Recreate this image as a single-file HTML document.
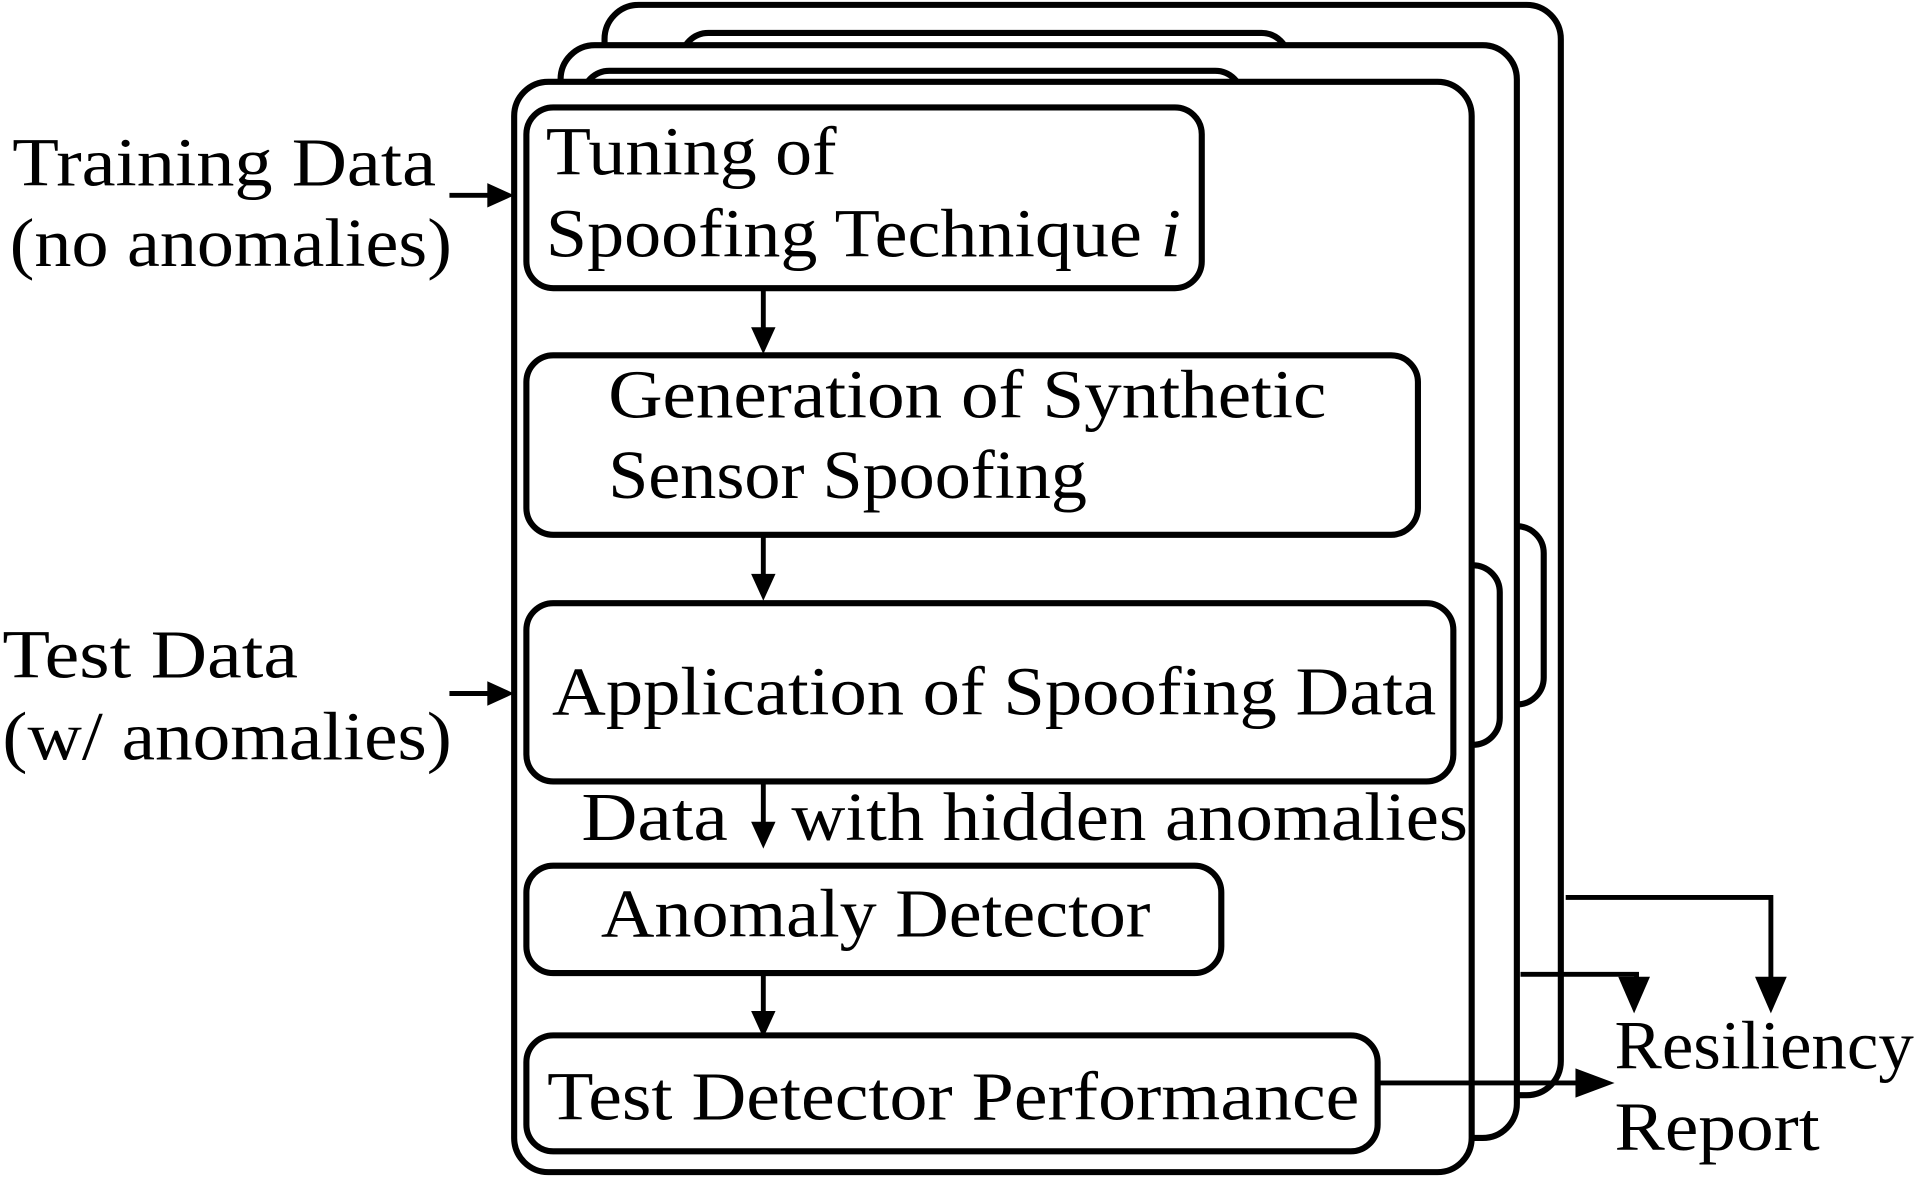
<!DOCTYPE html>
<html><head><meta charset="utf-8"><style>
html,body{margin:0;padding:0;background:#fff;}
svg{display:block;}
text{font-family:"Liberation Serif",serif;font-size:56px;fill:#000;}
</style></head><body>
<svg width="1915" height="1177" viewBox="0 0 1568 964" preserveAspectRatio="none" xmlns="http://www.w3.org/2000/svg">
<defs>
<marker id="a" markerWidth="10" markerHeight="10" refX="9" refY="5" orient="auto" markerUnits="userSpaceOnUse" viewBox="0 0 10 10">
</marker>
</defs>
<g fill="#fff" stroke="#000" stroke-width="5">
<!-- back frame 3 -->
<rect x="495" y="4" width="783" height="893" rx="28"/>
<rect x="558" y="27" width="497" height="200" rx="22"/>
<rect x="1150" y="431" width="114" height="146" rx="22"/>
<!-- frame 2 -->
<rect x="459" y="37" width="783" height="895" rx="28"/>
<rect x="477" y="58" width="540" height="200" rx="22"/>
<rect x="1110" y="463" width="118" height="147" rx="22"/>
<!-- front frame -->
<rect x="421" y="67" width="784" height="893" rx="28"/>
<rect x="431" y="88" width="553" height="148" rx="22"/>
<rect x="431" y="291" width="730" height="147" rx="22"/>
<rect x="431" y="494" width="759" height="146" rx="22"/>
<rect x="431" y="709" width="569" height="88" rx="22"/>
<rect x="431" y="848" width="697" height="95" rx="22"/>
</g>
<g stroke="#000" stroke-width="4" fill="none">
<path d="M368 160H410"/><path d="M368 568H410"/>
<path d="M625 236V278"/><path d="M625 438V480"/><path d="M625 640V682"/><path d="M625 797V838"/>
<path d="M1282 735H1450V818"/><path d="M1245 798H1340V818"/><path d="M1128 887H1310"/>
</g>
<g fill="#000">
<path d="M421 160l-22-10v20z"/><path d="M421 568l-22-10v20z"/>
<path d="M625 290l-10-22h20z"/><path d="M625 492l-10-22h20z"/><path d="M625 695l-10-22h20z"/><path d="M625 850l-10-22h20z"/>
<path d="M1450 830l-13-30h26z"/><path d="M1338 830l-13-30h26z"/><path d="M1322 887l-32-12v24z"/>
</g>
<text x="10" y="152" textLength="347" lengthAdjust="spacingAndGlyphs">Training Data</text>
<text x="8" y="218" textLength="362" lengthAdjust="spacingAndGlyphs">(no anomalies)</text>
<text x="447" y="143" textLength="238" lengthAdjust="spacingAndGlyphs">Tuning of</text>
<text x="447" y="210" textLength="520" lengthAdjust="spacingAndGlyphs">Spoofing Technique <tspan font-style="italic">i</tspan></text>
<text x="498" y="342" textLength="588" lengthAdjust="spacingAndGlyphs">Generation of Synthetic</text>
<text x="498" y="408" textLength="392" lengthAdjust="spacingAndGlyphs">Sensor Spoofing</text>
<text x="2" y="555" textLength="242" lengthAdjust="spacingAndGlyphs">Test Data</text>
<text x="2" y="622" textLength="368" lengthAdjust="spacingAndGlyphs">(w/ anomalies)</text>
<text x="452" y="585" textLength="724" lengthAdjust="spacingAndGlyphs">Application of Spoofing Data</text>
<text x="476" y="688" textLength="120" lengthAdjust="spacingAndGlyphs">Data</text>
<text x="648" y="688" textLength="554" lengthAdjust="spacingAndGlyphs">with hidden anomalies</text>
<text x="492" y="767" textLength="450" lengthAdjust="spacingAndGlyphs">Anomaly Detector</text>
<text x="448" y="917" textLength="665" lengthAdjust="spacingAndGlyphs">Test Detector Performance</text>
<text x="1322" y="875" textLength="245" lengthAdjust="spacingAndGlyphs">Resiliency</text>
<text x="1322" y="942" textLength="168" lengthAdjust="spacingAndGlyphs">Report</text>
</svg>
</body></html>
